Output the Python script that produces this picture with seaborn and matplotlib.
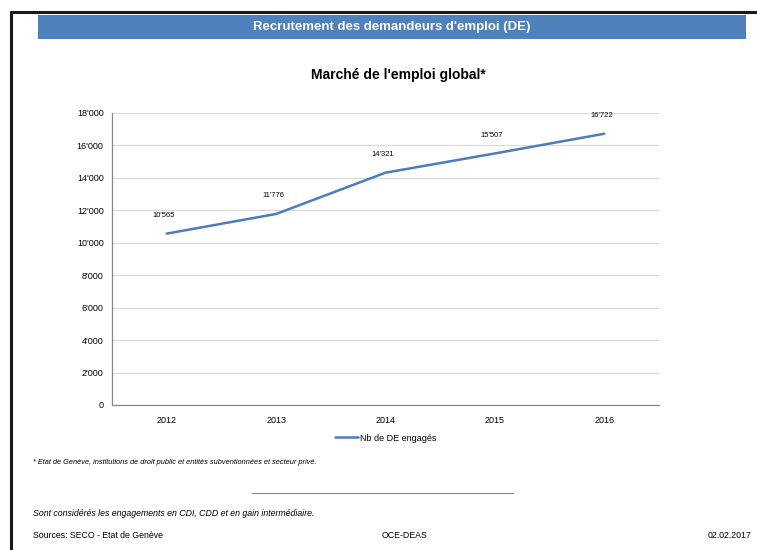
import matplotlib
matplotlib.use("Agg")
import matplotlib.pyplot as plt
import seaborn as sns
import pandas as pd
from matplotlib.lines import Line2D
from matplotlib.patches import Rectangle

years = ["2012", "2013", "2014", "2015", "2016"]
values = [10565, 11776, 14321, 15507, 16722]
labels = ["10'565", "11'776", "14'321", "15'507", "16'722"]
yticks = [0, 2000, 4000, 6000, 8000, 10000, 12000, 14000, 16000, 18000]
ytick_labels = ["0", "2'000", "4'000", "6'000", "8'000", "10'000", "12'000", "14'000", "16'000", "18'000"]

sns.set_theme(style="white")
plt.rcParams['font.family'] = ['Liberation Sans', 'DejaVu Sans']
plt.rcParams['text.color'] = 'black'
plt.rcParams['xtick.color'] = 'black'
plt.rcParams['ytick.color'] = 'black'
plt.rcParams['axes.labelcolor'] = 'black'

df = pd.DataFrame({"year": years, "value": values})

fig = plt.figure(figsize=(7.57, 5.5), dpi=100)
W, H = 757, 550

def fx(x):
    return x / W

def fy(y):
    return 1 - y / H

# frame
fig.add_artist(Line2D([fx(10.5), fx(10.5)], [fy(11.5), 0], color="#1a1a1a", lw=2.2, transform=fig.transFigure))
fig.add_artist(Line2D([fx(10.5), 1], [fy(11.5), fy(11.5)], color="#1a1a1a", lw=2.2, transform=fig.transFigure))

# header bar
fig.add_artist(Rectangle((fx(38), fy(39)), fx(746) - fx(38), fy(15) - fy(39),
                         facecolor="#4f81bd", edgecolor="none", transform=fig.transFigure))
fig.text(fx(392), fy(27), "Recrutement des demandeurs d'emploi (DE)", color="white",
         fontsize=9.5, fontweight="bold", ha="center", va="center")

fig.text(fx(398), fy(75), "Marché de l'emploi global*", fontsize=10, fontweight="bold",
         ha="center", va="center")

ax = fig.add_axes([fx(112), fy(405), fx(659) - fx(112), fy(113) - fy(405)])
sns.lineplot(data=df, x="year", y="value", ax=ax, color="#4a7ebb", linewidth=1.8,
             label="Nb de DE engagés", sort=False)

ax.set_xlim(-0.5, 4.5)
ax.set_ylim(0, 18000)
ax.set_yticks(yticks)
ax.set_yticklabels(ytick_labels, fontsize=6.5)
ax.set_xticks(range(len(years)))
ax.set_xticklabels(years, fontsize=6.5)
ax.set_xticks([i - 0.5 for i in range(len(years) + 1)], minor=True)
ax.tick_params(axis="x", which="major", length=0, pad=8)
ax.tick_params(axis="x", which="minor", length=3, color="#888888", direction="out")
ax.tick_params(axis="y", which="major", length=3, color="#888888", direction="out", pad=3)
ax.set_xlabel("")
ax.set_ylabel("")
ax.yaxis.grid(True, color="#d9d9d9", linewidth=0.8)
ax.set_axisbelow(True)
for s in ["top", "right"]:
    ax.spines[s].set_visible(False)
for s in ["left", "bottom"]:
    ax.spines[s].set_color("#888888")
    ax.spines[s].set_linewidth(0.9)

for i, (v, lab) in enumerate(zip(values, labels)):
    ax.annotate(lab, (i, v), xytext=(-2, 13), textcoords="offset points",
                ha="center", va="center", fontsize=5.5)

ax.legend(loc="upper center", bbox_to_anchor=(0.5, -0.07), frameon=False, fontsize=6.5,
          handlelength=2.5, handletextpad=0.2)

fig.text(fx(33), fy(462), "* Etat de Genève, institutions de droit public et entités subventionnées et secteur privé.",
         fontsize=5.3, style="italic", ha="left", va="center")
fig.add_artist(Line2D([fx(252), fx(513)], [fy(493), fy(493)], color="#888888", lw=0.8, transform=fig.transFigure))
fig.text(fx(33), fy(513), "Sont considérés les engagements en CDI, CDD et en gain intermédiaire.",
         fontsize=6.3, style="italic", ha="left", va="center")
fig.text(fx(33), fy(535), "Sources: SECO - Etat de Genève", fontsize=6.3, ha="left", va="center")
fig.text(fx(404), fy(535), "OCE-DEAS", fontsize=6.3, ha="center", va="center")
fig.text(fx(751), fy(535), "02.02.2017", fontsize=6.3, ha="right", va="center")

fig.savefig("out.png", dpi=100)
